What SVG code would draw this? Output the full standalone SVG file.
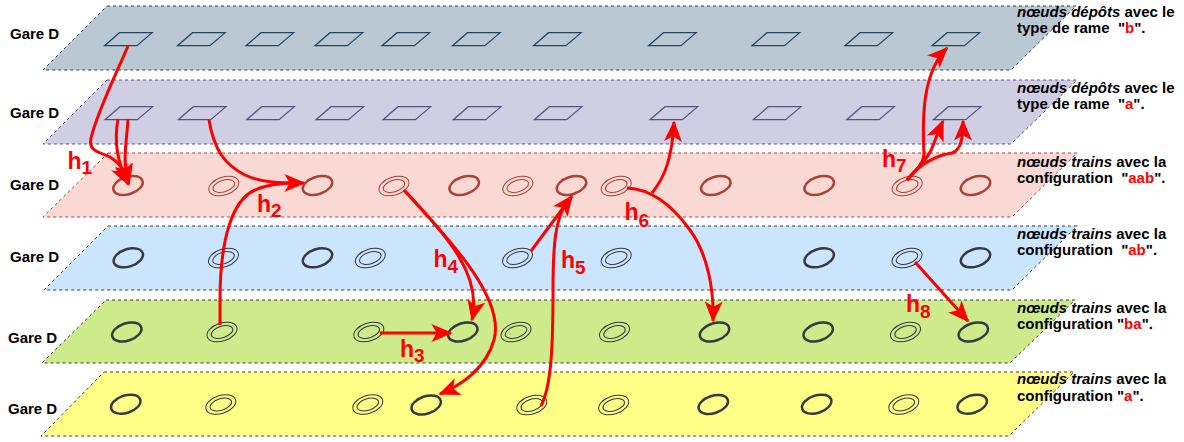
<svg xmlns="http://www.w3.org/2000/svg" xmlns:xlink="http://www.w3.org/1999/xlink" width="1184" height="442" viewBox="0 0 1184 442">
<style>
.pl{stroke-width:1;stroke-dasharray:3 3}
.p1{fill:#bac8d3;stroke:#23445d}
.p2{fill:#d0cee2;stroke:#56517e}
.p3{fill:#fad9d5;stroke:#ae4132}
.p4{fill:#cce5ff;stroke:#36393d}
.p5{fill:#cdeb8b;stroke:#36393d}
.p6{fill:#ffff88;stroke:#36393d}
.d1{fill:none;stroke:#23445d;stroke-width:1.2}
.d2{fill:none;stroke:#56517e;stroke-width:1.2}
.sr{fill:none;stroke:#ae4132;stroke-width:2.5}
.dr{fill:none;stroke:#ae4132;stroke-width:1}
.sk{fill:none;stroke:#36393d;stroke-width:2.5}
.dk{fill:none;stroke:#36393d;stroke-width:1}
.gl{font-family:"Liberation Sans",Arial,sans-serif;font-weight:bold;font-size:15px;fill:#000}
.rl{font-family:"Liberation Sans",Arial,sans-serif;font-weight:bold;font-size:15px;fill:#000;white-space:pre}
.it{font-style:italic}
.red{fill:#ff0000}
.c{fill:none;stroke:#ff0000;stroke-width:3}
.ca{fill:none;stroke:#ff0000;stroke-width:3;marker-end:url(#arr)}
.hl{font-family:"Liberation Sans",Arial,sans-serif;font-weight:bold;font-size:23px;fill:#ff0000}
.sub{font-size:19px}
</style>
<defs>
<marker id="arr" markerUnits="userSpaceOnUse" markerWidth="22" markerHeight="18" viewBox="0 0 20 17" refX="18.5" refY="8.5" orient="auto">
<path d="M0,0 L20,8.5 L0,17 L5,8.5 Z" fill="#ff0000"/>
</marker>
<path id="dep" d="M0,0 h32.7 l-15.3,13 h-32.4 z"/>
<ellipse id="es" rx="15.2" ry="8.7" transform="rotate(-18)"/>
<g id="ed"><ellipse rx="15.5" ry="9" transform="rotate(-18)"/><ellipse rx="11.2" ry="5.8" transform="rotate(-18)"/></g>
</defs>

<g id="planes">
<g id="plane1"><polygon class="pl p1" points="107,6 1076,6 1011,70 43,70"/><text class="gl" x="10" y="38.5">Gare D</text></g>
<g id="plane2"><polygon class="pl p2" points="107,80 1077,80 1011,144 43,144"/><text class="gl" x="10" y="118">Gare D</text></g>
<g id="plane3"><polygon class="pl p3" points="108,153 1077,153 1012,217 43,217"/><text class="gl" x="10" y="190">Gare D</text></g>
<g id="plane4"><polygon class="pl p4" points="108,226 1077,226 1012,290 44,290"/><text class="gl" x="10" y="262">Gare D</text></g>
<g id="plane5"><polygon class="pl p5" points="106,300 1075,300 1010,363 42,363"/><text class="gl" x="8" y="343">Gare D</text></g>
<g id="plane6"><polygon class="pl p6" points="104,372 1074,372 1009,436 41,436"/><text class="gl" x="8" y="414">Gare D</text></g>
</g>

<g id="depots-b">
<g id="b1"><use href="#dep" x="119.5" y="32.7" class="d1"/></g>
<g id="b2"><use href="#dep" x="192.5" y="32.7" class="d1"/></g>
<g id="b3"><use href="#dep" x="261" y="32.7" class="d1"/></g>
<g id="b4"><use href="#dep" x="330" y="32.7" class="d1"/></g>
<g id="b5"><use href="#dep" x="397" y="32.7" class="d1"/></g>
<g id="b6"><use href="#dep" x="467.5" y="32.7" class="d1"/></g>
<g id="b7"><use href="#dep" x="548.5" y="32.7" class="d1"/></g>
<g id="b8"><use href="#dep" x="663.5" y="32.7" class="d1"/></g>
<g id="b9"><use href="#dep" x="767" y="32.7" class="d1"/></g>
<g id="b10"><use href="#dep" x="860" y="32.7" class="d1"/></g>
<g id="b11"><use href="#dep" x="947" y="32.7" class="d1"/></g>
</g>
<g id="depots-a">
<g id="a1"><use href="#dep" x="120" y="106.7" class="d2"/></g>
<g id="a2"><use href="#dep" x="193.3" y="106.7" class="d2"/></g>
<g id="a3"><use href="#dep" x="261.7" y="106.7" class="d2"/></g>
<g id="a4"><use href="#dep" x="331" y="106.7" class="d2"/></g>
<g id="a5"><use href="#dep" x="398" y="106.7" class="d2"/></g>
<g id="a6"><use href="#dep" x="468.3" y="106.7" class="d2"/></g>
<g id="a7"><use href="#dep" x="549.3" y="106.7" class="d2"/></g>
<g id="a8"><use href="#dep" x="665" y="106.7" class="d2"/></g>
<g id="a9"><use href="#dep" x="768.3" y="106.7" class="d2"/></g>
<g id="a10"><use href="#dep" x="861.7" y="106.7" class="d2"/></g>
<g id="a11"><use href="#dep" x="948.3" y="106.7" class="d2"/></g>
</g>

<g id="trains-aab">
<g id="t3-1"><use href="#es" x="128" y="185.5" class="sr"/></g>
<g id="t3-2"><use href="#ed" x="223.8" y="186" class="dr"/></g>
<g id="t3-3"><use href="#es" x="317.5" y="185.5" class="sr"/></g>
<g id="t3-4"><use href="#ed" x="394" y="186" class="dr"/></g>
<g id="t3-5"><use href="#es" x="464.2" y="185.5" class="sr"/></g>
<g id="t3-6"><use href="#ed" x="517.8" y="186" class="dr"/></g>
<g id="t3-7"><use href="#es" x="571.5" y="185.5" class="sr"/></g>
<g id="t3-8"><use href="#ed" x="616.2" y="186" class="dr"/></g>
<g id="t3-9"><use href="#es" x="715.8" y="185.5" class="sr"/></g>
<g id="t3-10"><use href="#es" x="819.2" y="185.5" class="sr"/></g>
<g id="t3-11"><use href="#ed" x="907.2" y="186" class="dr"/></g>
<g id="t3-12"><use href="#es" x="975.5" y="185.5" class="sr"/></g>
</g>
<g id="trains-ab">
<g id="t4-1"><use href="#es" x="128.3" y="257.8" class="sk"/></g>
<g id="t4-2"><use href="#ed" x="223.5" y="258" class="dk"/></g>
<g id="t4-3"><use href="#es" x="317.5" y="257.8" class="sk"/></g>
<g id="t4-4"><use href="#ed" x="370.3" y="258" class="dk"/></g>
<g id="t4-5"><use href="#ed" x="517.5" y="258" class="dk"/></g>
<g id="t4-6"><use href="#ed" x="616.2" y="258" class="dk"/></g>
<g id="t4-7"><use href="#es" x="819.2" y="257.8" class="sk"/></g>
<g id="t4-8"><use href="#ed" x="907" y="258" class="dk"/></g>
<g id="t4-9"><use href="#es" x="975.5" y="257.8" class="sk"/></g>
</g>
<g id="trains-ba">
<g id="t5-1"><use href="#es" x="126.8" y="332" class="sk"/></g>
<g id="t5-2"><use href="#ed" x="222" y="332" class="dk"/></g>
<g id="t5-3"><use href="#ed" x="368.8" y="332" class="dk"/></g>
<g id="t5-4"><use href="#es" x="462.8" y="332" class="sk"/></g>
<g id="t5-5"><use href="#ed" x="516" y="332" class="dk"/></g>
<g id="t5-6"><use href="#ed" x="614.5" y="332" class="dk"/></g>
<g id="t5-7"><use href="#es" x="714.5" y="332" class="sk"/></g>
<g id="t5-8"><use href="#es" x="818.2" y="332" class="sk"/></g>
<g id="t5-9"><use href="#ed" x="905.5" y="332" class="dk"/></g>
<g id="t5-10"><use href="#es" x="973.3" y="332" class="sk"/></g>
</g>
<g id="trains-a">
<g id="t6-1"><use href="#es" x="125.8" y="404.2" class="sk"/></g>
<g id="t6-2"><use href="#ed" x="220.8" y="404.5" class="dk"/></g>
<g id="t6-3"><use href="#ed" x="367.8" y="404.5" class="dk"/></g>
<g id="t6-4"><use href="#es" x="426.2" y="405" class="sk"/></g>
<g id="t6-5"><use href="#ed" x="531.8" y="405" class="dk"/></g>
<g id="t6-6"><use href="#ed" x="613.7" y="405" class="dk"/></g>
<g id="t6-7"><use href="#es" x="713.3" y="404.5" class="sk"/></g>
<g id="t6-8"><use href="#es" x="816.7" y="404.2" class="sk"/></g>
<g id="t6-9"><use href="#ed" x="903.8" y="404.5" class="dk"/></g>
<g id="t6-10"><use href="#es" x="972.2" y="404.2" class="sk"/></g>
</g>

<g id="labels-right">
<text class="rl" x="1017" y="16.5"><tspan class="it">nœuds dépôts</tspan> avec le</text>
<text class="rl" x="1017" y="32.5">type de rame  "<tspan class="red">b</tspan>".</text>
<text class="rl" x="1017" y="93.3"><tspan class="it">nœuds dépôts</tspan> avec le</text>
<text class="rl" x="1017" y="109.3">type de rame  "<tspan class="red">a</tspan>".</text>
<text class="rl" x="1017" y="166.7"><tspan class="it">nœuds trains</tspan> avec la</text>
<text class="rl" x="1017" y="183.3">configuration  "<tspan class="red">aab</tspan>".</text>
<text class="rl" x="1017" y="238.7"><tspan class="it">nœuds trains</tspan> avec la</text>
<text class="rl" x="1017" y="255.3">configuration  "<tspan class="red">ab</tspan>".</text>
<text class="rl" x="1017" y="312.7"><tspan class="it">nœuds trains</tspan> avec la</text>
<text class="rl" x="1017" y="329.3">configuration "<tspan class="red">ba</tspan>".</text>
<text class="rl" x="1017" y="384"><tspan class="it">nœuds trains</tspan> avec la</text>
<text class="rl" x="1017" y="401">configuration "<tspan class="red">a</tspan>".</text>
</g>

<g id="connectors">
<path class="ca" d="M128,46 C118,70 98,110 91,138 C88,152 100,152 110,157 C120,163 126,172 129,184"/>
<path class="ca" d="M118,119 C114,140 116,160 128,184"/>
<path class="ca" d="M128,119 C127,140 122,160 128,184"/>
<path class="ca" d="M209,120 C214,150 225,165 245,175 C262,183 280,183 304,183"/>
<path class="c" d="M220,325 L220,300 C220,240 232,200 255,190 C268,184 280,183 295,183"/>
<path class="ca" d="M380,333 L451,333"/>
<path class="ca" d="M404,190 C450,240 482,275 472,320"/>
<path class="ca" d="M404,190 C455,245 505,300 494,340 C486,368 462,385 440,394"/>
<path class="ca" d="M531,251 L572,196"/>
<path class="c" d="M541,406 C552,385 553,340 553,290 C553,240 556,220 566,203"/>
<path class="ca" d="M627,188 C650,189 672,205 690,230 C708,255 714,290 713,321"/>
<path class="ca" d="M652,193 C664,178 672,160 674,122"/>
<path class="ca" d="M907,180 C914,172 923,165 924,155 C922,115 923,72 947,48"/>
<path class="ca" d="M907,180 C918,168 928,158 932,148 C936,138 940,128 943,121"/>
<path class="ca" d="M907,180 C920,163 938,155 952,153 C962,150 963,135 963,121"/>
<path class="ca" d="M915,262 L968,321"/>
</g>

<g id="connector-labels">
<text class="hl" x="67.5" y="169.3">h<tspan class="sub" dy="5">1</tspan></text>
<text class="hl" x="257" y="211.7">h<tspan class="sub" dy="5.5">2</tspan></text>
<text class="hl" x="400" y="356.7">h<tspan class="sub" dy="5.5">3</tspan></text>
<text class="hl" x="433.5" y="266.7">h<tspan class="sub" dy="6">4</tspan></text>
<text class="hl" x="561" y="268.3">h<tspan class="sub" dy="6">5</tspan></text>
<text class="hl" x="624.5" y="220">h<tspan class="sub" dy="7">6</tspan></text>
<text class="hl" x="882" y="166.7">h<tspan class="sub" dy="5">7</tspan></text>
<text class="hl" x="906" y="311.7">h<tspan class="sub" dy="6.5">8</tspan></text>
</g>
</svg>
